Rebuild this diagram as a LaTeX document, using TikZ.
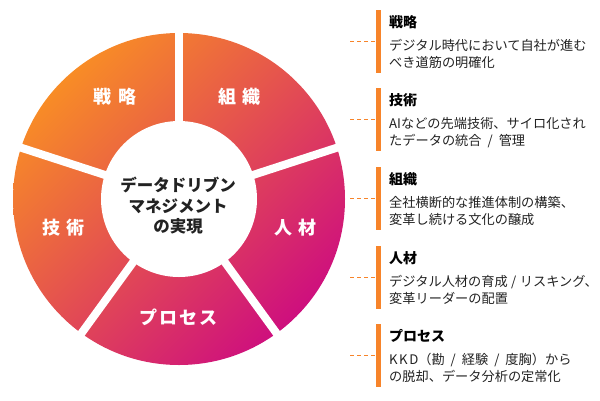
\documentclass[tikz,border=0pt]{standalone}
\usepackage{fontspec}
\setmainfont{Noto Sans CJK JP}
\definecolor{cOr}{HTML}{F88C26}
\definecolor{cMid}{HTML}{EB6450}
\definecolor{cMag}{HTML}{CE0F7E}
\definecolor{barc}{HTML}{F7842A}
\definecolor{txt}{HTML}{222222}
\tikzset{
  seglabel/.style={text=white, font=\fontsize{18}{20}\selectfont\bfseries, inner sep=0pt},
  centerlabel/.style={text=txt, font=\fontsize{16.5}{20.5}\selectfont\bfseries, align=center, inner sep=0pt},
  barbox/.style={fill=barc, draw=none, inner sep=0pt, minimum width=5pt, minimum height=63pt},
  dashline/.style={draw=barc, line width=0.9pt, dash pattern=on 4pt off 3pt},
  ttl/.style={anchor=base west, inner sep=0pt, text=black, font=\fontsize{14}{16}\selectfont\bfseries},
  bodytxt/.style={anchor=base west, inner sep=0pt, text=txt, font=\fontsize{13.2}{16}\selectfont},
}
\newcommand\slsep{\hspace{6pt}/\hspace{6pt}}
\newcommand\slnarrow{\hspace{3.5pt}/\hspace{3.5pt}}
\newcommand\infoblock[5]{%
  \node[barbox] (b#1) at (378.5,#2+31.5) {};
  \coordinate (d#1) at (350,#2+31.5);
  \draw[dashline] (d#1) -- (b#1.west);
  \node[ttl] (t#1) at (389,#2+17.5) {#3};
  \node[bodytxt] (la#1) at (389,#2+40) {#4};
  \node[bodytxt] (lb#1) at (389,#2+57) {#5};
}
\begin{document}
\begin{tikzpicture}[x=1pt,y=-1pt]
\useasboundingbox (0,0) rectangle (600,400);
% donut
\begin{scope}[shift={(179,199)}, y=1pt]
  \begin{scope}
    \clip (0,0) circle (166);
    \shade[top color=cOr, middle color=cMid, bottom color=cMag, shading angle=45] (-166,-166) rectangle (166,166);
  \end{scope}
  \foreach \a in {90,18,162,234,306} \draw[white, line width=8pt] (0,0) -- (\a:172);
  \fill[white] (0,0) circle (78);
\end{scope}
% segment labels
\node[seglabel] (s1) at (115,96.5) {戦\hspace{7pt}略};
\node[seglabel] (s2) at (239.5,96.5) {組\hspace{7pt}織};
\node[seglabel] (s3) at (295.5,227.5) {人\hspace{7pt}材};
\node[seglabel] (s4) at (63.5,227.5) {技\hspace{7pt}術};
\node[seglabel] (s5) at (178.5,317.5) {プ\hspace{2pt}ロ\hspace{2pt}セ\hspace{2pt}ス};
\node[centerlabel] (c) at (178,206) {データドリブン\\マネジメント\\の実現};
% right side blocks
\infoblock{1}{10}{戦略}{デジタル時代において自社が進む}{べき道筋の明確化}
\infoblock{2}{88}{技術}{AIなどの先端技術、サイロ化され}{たデータの統合\slsep 管理}
\infoblock{3}{167}{組織}{全社横断的な推進体制の構築、}{変革し続ける文化の醸成}
\infoblock{4}{246}{人材}{デジタル人材の育成\slnarrow リスキング、}{変革リーダーの配置}
\infoblock{5}{324}{プロセス}{K\kern1.5pt K\kern1.5pt D（勘\slsep 経験\slsep 度胸）から}{の脱却、データ分析の定常化}
\end{tikzpicture}
\end{document}
